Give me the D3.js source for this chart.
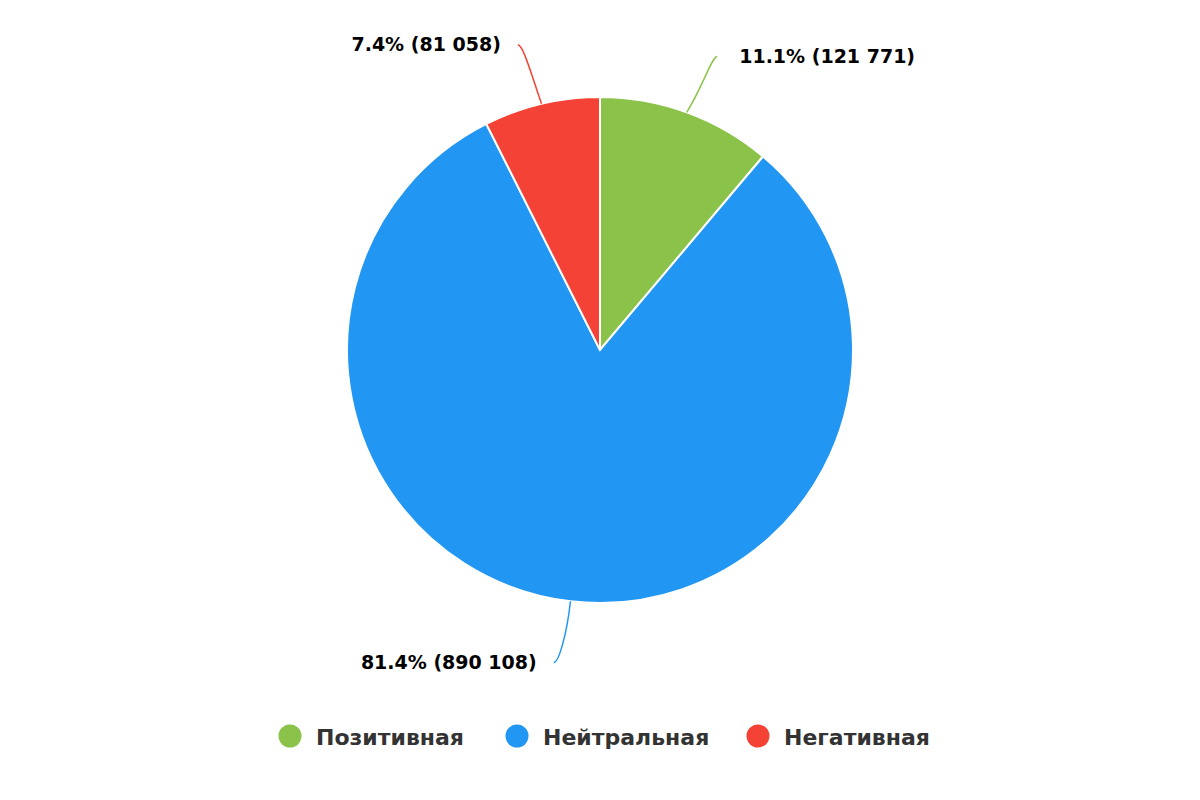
<!DOCTYPE html>
<html><head><meta charset="utf-8">
<script src="https://cdn.jsdelivr.net/npm/d3@7"></script>
<style>body{margin:0;background:#fff}</style>
</head><body><div id="chart"></div>
<script>
const categories = ["Позитивная", "Нейтральная", "Негативная"];
const values = [121771, 890108, 81058];
const colors = ["#8bc34a", "#2196f3", "#f44336"];

const w = 1200, h = 800, cx = 600, cy = 350, r = 253;
const svg = d3.select("#chart").append("svg").attr("width", w).attr("height", h);
const total = d3.sum(values);
const pie = d3.pie().sort(null)(values);
const arc = d3.arc().innerRadius(0).outerRadius(r);
const g = svg.append("g").attr("transform", `translate(${cx},${cy})`);

g.selectAll("path.slice").data(pie).join("path")
  .attr("class", "slice").attr("d", arc)
  .attr("fill", (d, i) => colors[i]).attr("stroke", "#fff").attr("stroke-width", 2);

const fmt = v => d3.format(",")(v).replace(/,/g, " ");
const pt = (a, rad) => [Math.sin(a) * rad, -Math.cos(a) * rad];
pie.forEach((d, i) => {
  const a = (d.startAngle + d.endAngle) / 2;
  const s = pt(a, r), e = pt(a + (Math.sin(a) > 0 ? 0.03 : -0.03) * (Math.cos(a) > 0 ? 1 : -1), 316);
  const right = Math.sin(a) > 0;
  const c = [e[0] - (right ? 18 : -18) * 0.3, e[1] + (Math.cos(a) > 0 ? 10 : -10)];
  const end = [e[0] + (right ? 0 : 0), e[1]];
  g.append("path")
    .attr("d", `M${s[0]},${s[1]} C${c[0] - (right ? 8 : -8)},${(s[1] + e[1]) / 2} ${c[0]},${e[1]} ${end[0]},${end[1]}`)
    .attr("fill", "none").attr("stroke", colors[i]).attr("stroke-width", 1.5);
  g.append("text")
    .attr("x", end[0] + (right ? 22 : -17)).attr("y", end[1] + 6)
    .attr("text-anchor", right ? "start" : "end")
    .attr("font-family", "DejaVu Sans").attr("font-weight", "bold").attr("font-size", 19)
    .attr("fill", "#000")
    .text(`${(values[i] / total * 100).toFixed(1)}% (${fmt(values[i])})`);
});

const legendX = [290, 517, 758];
const lg = svg.append("g");
categories.forEach((c, i) => {
  lg.append("circle").attr("cx", legendX[i]).attr("cy", 736).attr("r", 11.5).attr("fill", colors[i]);
  lg.append("text").attr("x", legendX[i] + 26).attr("y", 745)
    .attr("font-family", "DejaVu Sans").attr("font-weight", "bold").attr("font-size", 22)
    .attr("fill", "#333").text(c);
});
</script></body></html>
